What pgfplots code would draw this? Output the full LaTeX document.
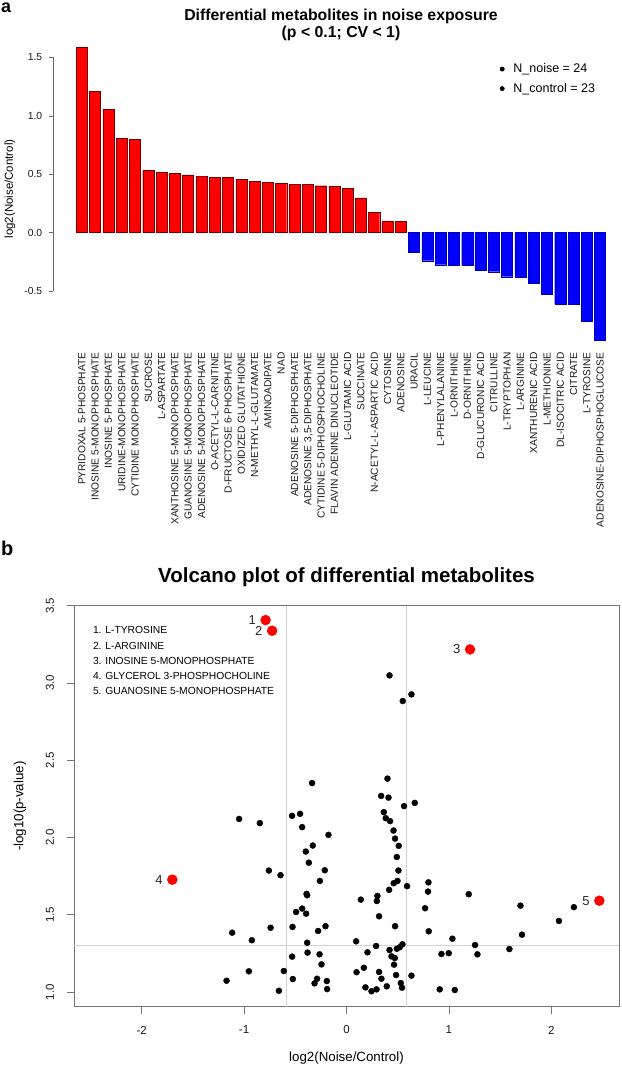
\documentclass[border=0pt]{standalone}
\usepackage{fontspec}
\setmainfont{Liberation Sans}
\usepackage{pgfplots}
\pgfplotsset{compat=1.18}
\begin{document}
\begin{tikzpicture}[x=1pt,y=1pt]
\useasboundingbox (0,0) rectangle (621,1070);
% panel letters and titles
\node[anchor=base west, inner sep=0pt, font=\fontsize{18}{20}\selectfont\bfseries] at (1,1057.5) {a};
\node[anchor=base west, inner sep=0pt, font=\fontsize{20}{22}\selectfont\bfseries] at (1,514) {b};
\node[anchor=base, inner sep=0pt, font=\fontsize{15.8}{18}\selectfont\bfseries] at (341,1049.3) {Differential metabolites in noise exposure};
\node[anchor=base, inner sep=0pt, font=\fontsize{15.8}{18}\selectfont\bfseries] at (341,1032) {(p < 0.1; CV < 1)};
\node[anchor=base, inner sep=0pt, font=\fontsize{20.5}{24}\selectfont\bfseries] at (346.5,487.5) {Volcano plot of differential metabolites};

% ---------------- panel a ----------------
\begin{axis}[
  at={(53.3pt,779.15pt)}, anchor=south west, scale only axis,
  width=575.4pt, height=233.35pt,
  xmin=-1.147, xmax=42.15, ymin=-0.5, ymax=1.5,
  clip=false,
  axis y line*=left, axis x line*=bottom,
  x axis line style={draw=none},
  y axis line style={black!60, line width=0.6pt, -},
  tick align=outside, major tick length=4.5pt,
  xtick={1,...,40},
  xticklabels={PYRIDOXAL 5-PHOSPHATE,%
INOSINE 5-MONOPHOSPHATE,%
INOSINE 5-PHOSPHATE,%
URIDINE-MONOPHOSPHATE,%
CYTIDINE MONOPHOSPHATE,%
SUCROSE,%
L-ASPARTATE,%
XANTHOSINE 5-MONOPHOSPHATE,%
GUANOSINE 5-MONOPHOSPHATE,%
ADENOSINE 5-MONOPHOSPHATE,%
O-ACETYL-L-CARNITINE,%
D-FRUCTOSE 6-PHOSPHATE,%
OXIDIZED GLUTATHIONE,%
N-METHYL-L-GLUTAMATE,%
AMINOADIPATE,%
NAD,%
ADENOSINE 5-DIPHOSPHATE,%
{ADENOSINE 3,5-DIPHOSPHATE},%
CYTIDINE 5-DIPHOSPHOCHOLINE,%
FLAVIN ADENINE DINUCLEOTIDE,%
L-GLUTAMIC ACID,%
SUCCINATE,%
N-ACETYL-L-ASPARTIC ACID,%
CYTOSINE,%
ADENOSINE,%
URACIL,%
L-LEUCINE,%
L-PHENYLALANINE,%
L-ORNITHINE,%
D-ORNITHINE,%
D-GLUCURONIC ACID,%
CITRULLINE,%
L-TRYPTOPHAN,%
L-ARGININE,%
XANTHURENIC ACID,%
L-METHIONINE,%
DL-ISOCITRIC ACID,%
CITRATE,%
L-TYROSINE,%
ADENOSINE-DIPHOSPHOGLUCOSE},
  xtick style={draw=none},
  xticklabel style={font=\fontsize{10.2}{12}\selectfont, rotate=90, anchor=east, inner sep=0pt, text depth=0pt, text=black!90},
  xticklabel shift=57pt,
  ytick={-0.5,0,0.5,1,1.5}, yticklabels={-0.5,0.0,0.5,1.0,1.5},
  ytick style={black!60, line width=0.6pt},
  yticklabel style={font=\fontsize{10.3}{12}\selectfont, inner sep=0pt, xshift=-6.5pt, text=black!90},
  ylabel={log2(Noise/Control)},
  every axis y label/.style={at={(axis cs:-4.405,0.373)}, rotate=90, anchor=center, font=\fontsize{11.5}{13}\selectfont},
  legend style={draw=none, fill=none, at={(axis cs:32.45,1.465)}, anchor=north west, font=\fontsize{12.5}{14}\selectfont, row sep=5pt, inner sep=0pt, /tikz/column sep=7pt},
  legend cell align=left,
]
\addplot[ybar, bar width=11.07pt, fill=red, draw=red!45!black, line width=0.4pt, forget plot] coordinates {
(1,1.587) (2,1.207) (3,1.058) (4,0.804) (5,0.799) (6,0.533) (7,0.518) (8,0.507) (9,0.493) (10,0.482)
(11,0.470) (12,0.470) (13,0.458) (14,0.439) (15,0.427) (16,0.422) (17,0.413) (18,0.413) (19,0.401) (20,0.396)
(21,0.381) (22,0.296) (23,0.173) (24,0.099) (25,0.093)};
\addplot[ybar, bar width=11.07pt, fill=blue, draw=blue!70!black, line width=0.4pt, forget plot] coordinates {
(26,-0.173) (27,-0.242) (28,-0.276) (29,-0.284) (30,-0.284) (31,-0.327) (32,-0.336) (33,-0.379) (34,-0.381) (35,-0.435)
(36,-0.533) (37,-0.613) (38,-0.613) (39,-0.761) (40,-0.924)};
\addlegendimage{only marks, mark=*, mark size=2.2pt, black}
\addlegendentry{N\_noise = 24}
\addlegendimage{only marks, mark=*, mark size=2.2pt, black}
\addlegendentry{N\_control = 23}
\end{axis}

% ---------------- panel b ----------------
\begin{axis}[
  at={(74pt,63.3pt)}, anchor=south west, scale only axis,
  width=545pt, height=401pt,
  xmin=-2.66, xmax=2.66, ymin=0.905, ymax=3.5,
  clip=false,
  axis line style={black!55, line width=0.6pt},
  xtick={-2,-1,0,1,2}, xticklabels={-2,-1,0,1,2},
  ytick={1,1.5,2,2.5,3,3.5}, yticklabels={1.0,1.5,2.0,2.5,3.0,3.5},
  xtick pos=bottom, ytick pos=left, tick align=outside, major tick length=7pt,
  tick style={black!55, line width=0.6pt},
  xticklabel style={font=\fontsize{11.5}{13}\selectfont, anchor=center, inner sep=0pt, yshift=-16.3pt, text=black!90},
  yticklabel style={font=\fontsize{11.5}{13}\selectfont, xshift=-17pt, rotate=90, anchor=center, inner sep=0pt, text=black!90},
  xlabel={log2(Noise/Control)}, ylabel={-log10(p-value)},
  every axis x label/.style={at={(rel axis cs:0.5,0)}, yshift=-51.3pt, anchor=center, font=\fontsize{13.3}{15}\selectfont},
  every axis y label/.style={at={(rel axis cs:0,0.5)}, xshift=-54pt, rotate=90, anchor=center, font=\fontsize{13.3}{15}\selectfont},
]
\addplot[black!18, line width=0.8pt] coordinates {(-2.66,1.301) (2.66,1.301)};
\addplot[black!18, line width=0.8pt] coordinates {(-0.585,0.905) (-0.585,3.5)};
\addplot[black!18, line width=0.8pt] coordinates {(0.585,0.905) (0.585,3.5)};
\addplot[only marks, mark=*, mark size=3pt, black] table {
x y
-0.336 2.352
-1.048 2.120
-0.846 2.093
-0.531 2.140
-0.453 2.153
-0.433 2.067
-0.176 2.017
-0.329 1.948
-0.397 1.909
-0.368 1.837
-0.758 1.786
-0.644 1.756
-0.212 1.788
-0.260 1.719
-0.390 1.635
-0.384 1.626
-0.433 1.540
-0.492 1.518
-0.394 1.507
-1.116 1.384
-0.924 1.335
-0.741 1.416
-0.527 1.421
-0.205 1.426
-0.277 1.395
-0.384 1.319
-0.380 1.255
-0.531 1.229
-0.263 1.244
-0.244 1.179
-0.953 1.134
-0.612 1.136
-1.171 1.073
-0.524 1.084
-0.287 1.086
-0.312 1.056
-0.192 1.071
-0.189 1.019
-0.660 1.008
0.420 3.049
0.634 2.926
0.549 2.883
0.400 2.381
0.338 2.269
0.410 2.258
0.562 2.203
0.666 2.224
0.364 2.164
0.383 2.125
0.425 2.106
0.459 2.045
0.474 1.993
0.510 1.946
0.491 1.874
0.507 1.786
0.498 1.719
0.461 1.704
0.416 1.661
0.591 1.685
0.800 1.710
0.796 1.650
0.302 1.622
0.296 1.589
0.140 1.598
1.193 1.633
0.767 1.542
1.698 1.559
2.220 1.549
0.318 1.490
0.474 1.426
0.803 1.393
2.074 1.460
1.713 1.371
1.034 1.345
0.094 1.328
0.289 1.298
1.255 1.304
0.546 1.309
0.520 1.290
0.491 1.280
1.590 1.278
0.420 1.272
0.205 1.257
0.927 1.246
0.998 1.251
1.278 1.244
0.439 1.231
0.471 1.220
0.464 1.177
0.169 1.157
0.098 1.128
0.318 1.130
0.484 1.110
0.634 1.106
0.341 1.086
0.393 1.037
0.530 1.058
0.542 1.028
0.185 1.030
0.293 1.017
0.244 1.005
0.910 1.017
1.057 1.013
};
\addplot[only marks, mark=*, mark size=5pt, red, mark options={draw=red, fill=red},
  nodes near coords, point meta=explicit symbolic,
  every node near coord/.style={anchor=east, inner sep=0pt, xshift=-9.5pt, font=\fontsize{13}{15}\selectfont, text=black!85}]
  table[meta=lab] {
x y lab
-0.790 3.407 1
-0.726 3.338 2
1.206 3.217 3
-1.700 1.727 4
2.468 1.591 5
};
\end{axis}
% volcano legend text
\node[anchor=west, inner sep=0pt, font=\fontsize{10.3}{12}\selectfont] at (92.8,439.7) {1. L-TYROSINE};
\node[anchor=west, inner sep=0pt, font=\fontsize{10.3}{12}\selectfont] at (92.8,424.3) {2. L-ARGININE};
\node[anchor=west, inner sep=0pt, font=\fontsize{10.3}{12}\selectfont] at (92.8,409.0) {3. INOSINE 5-MONOPHOSPHATE};
\node[anchor=west, inner sep=0pt, font=\fontsize{10.3}{12}\selectfont] at (92.8,394.0) {4. GLYCEROL 3-PHOSPHOCHOLINE};
\node[anchor=west, inner sep=0pt, font=\fontsize{10.3}{12}\selectfont] at (92.8,379.0) {5. GUANOSINE 5-MONOPHOSPHATE};
\end{tikzpicture}
\end{document}
